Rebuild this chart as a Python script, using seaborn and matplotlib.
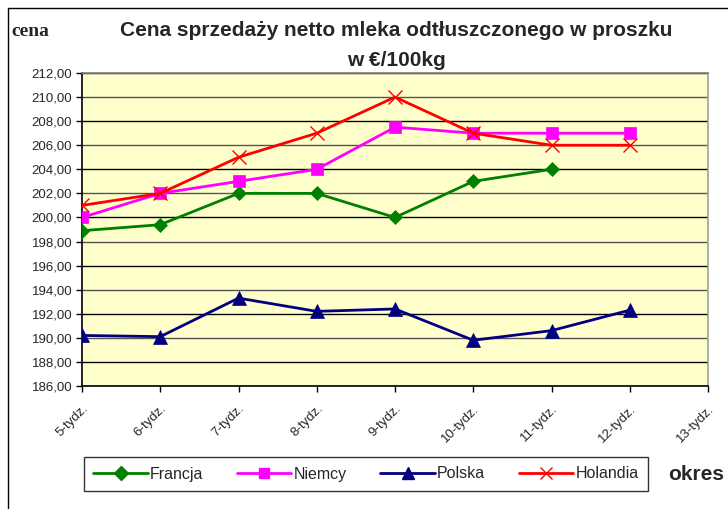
import numpy as np
import pandas as pd
import matplotlib
matplotlib.use("Agg")
import matplotlib.pyplot as plt
import seaborn as sns
from matplotlib.lines import Line2D

# =====================================
# Data
# =====================================

weeks = ["5-tydz.", "6-tydz.", "7-tydz.", "8-tydz.", "9-tydz.",
         "10-tydz.", "11-tydz.", "12-tydz.", "13-tydz."]

francja = [198.9, 199.4, 202.0, 202.0, 200.0, 203.0, 204.0, np.nan]
niemcy = [200.0, 202.0, 203.0, 204.0, 207.5, 207.0, 207.0, 207.0]
polska = [190.2, 190.1, 193.3, 192.2, 192.4, 189.8, 190.6, 192.3]
holandia = [201.0, 202.0, 205.0, 207.0, 210.0, 207.0, 206.0, 206.0]

series_names = ["Francja", "Niemcy", "Polska", "Holandia"]
series_values = [francja, niemcy, polska, holandia]

y_ticks = np.arange(186, 213, 2)

# =====================================
# Styling
# =====================================

sns.set_style("white")
plt.rcParams["font.family"] = ["Liberation Sans", "DejaVu Sans"]

colors = {"Francja": "#008000", "Niemcy": "#FF00FF",
          "Polska": "#000080", "Holandia": "#FF0000"}
markers = {"Francja": "D", "Niemcy": "s", "Polska": "^", "Holandia": "x"}
msizes = {"Francja": 7.5, "Niemcy": 8.5, "Polska": 9.5, "Holandia": 10}

fig = plt.figure(figsize=(7.28, 5.09), dpi=100)
ax = fig.add_axes([82 / 728, 1 - 386 / 509, 626 / 728, 313 / 509])
ax.set_facecolor("#FFFFCC")

pos = np.arange(len(weeks) - 1)
handles = []
for name, vals in zip(series_names, series_values):
    sns.lineplot(x=pos, y=vals, ax=ax, color=colors[name], linewidth=2.0,
                 marker=markers[name], markersize=msizes[name],
                 markeredgecolor=colors[name],
                 markeredgewidth=1.0 if name == "Holandia" else 0.5,
                 legend=False, zorder=3)
    handles.append(Line2D([], [], color=colors[name], linewidth=2.0,
                          marker=markers[name], markersize=msizes[name] * 0.9,
                          markeredgecolor=colors[name], label=name))

# axes
ax.set_xlim(0, len(weeks) - 1)
ax.set_ylim(186, 212)
ax.set_yticks(y_ticks)
ax.set_yticklabels([f"{v:.2f}".replace(".", ",") for v in y_ticks], fontsize=9.5)
ax.set_xticks(np.arange(len(weeks)))
ax.set_xticklabels(weeks, rotation=45, ha="right", rotation_mode="anchor", fontsize=9.5)
ax.tick_params(axis="both", direction="out", length=4, width=1, color="black",
               left=True, bottom=True, pad=3)
ax.tick_params(axis="x", pad=8)

for i, v in enumerate(y_ticks):
    ax.axhline(v, color="#555555" if i % 2 == 0 else "black", linewidth=1.0, zorder=1)

ax.spines["left"].set_color("black")
ax.spines["bottom"].set_color("black")
ax.spines["top"].set_color("#808080")
ax.spines["right"].set_color("#A0A0A0")
for s in ax.spines.values():
    s.set_linewidth(1.2)

# titles
fig.text(396 / 728, 1 - 30 / 509, "Cena sprzedaży netto mleka odtłuszczonego w proszku",
         ha="center", va="center", fontsize=15, fontweight="bold")
fig.text(396 / 728, 1 - 60 / 509, "w €/100kg",
         ha="center", va="center", fontsize=15, fontweight="bold")
fig.text(11 / 728, 1 - 32 / 509, "cena", ha="left", va="center", fontsize=14,
         fontweight="bold", family=["Liberation Serif", "DejaVu Serif"])
fig.text(668 / 728, 1 - 474 / 509, "okres", ha="left", va="center", fontsize=15,
         fontweight="bold")

# legend
leg = fig.legend(handles=handles, loc="center", ncol=4,
                 bbox_to_anchor=(366 / 728, 1 - 474 / 509), frameon=True,
                 fancybox=False, edgecolor="black", fontsize=11.5,
                 handlelength=3.4, columnspacing=2.1, handletextpad=0.15,
                 borderpad=0.6)
leg.get_frame().set_linewidth(1.0)

# chart area border
fig.add_artist(Line2D([8 / 728, 8 / 728], [0, 1 - 8 / 509], color="black",
                      linewidth=1.0, transform=fig.transFigure))
fig.add_artist(Line2D([8 / 728, 1], [1 - 8 / 509, 1 - 8 / 509], color="black",
                      linewidth=1.0, transform=fig.transFigure))

fig.savefig("out.png", dpi=100)
